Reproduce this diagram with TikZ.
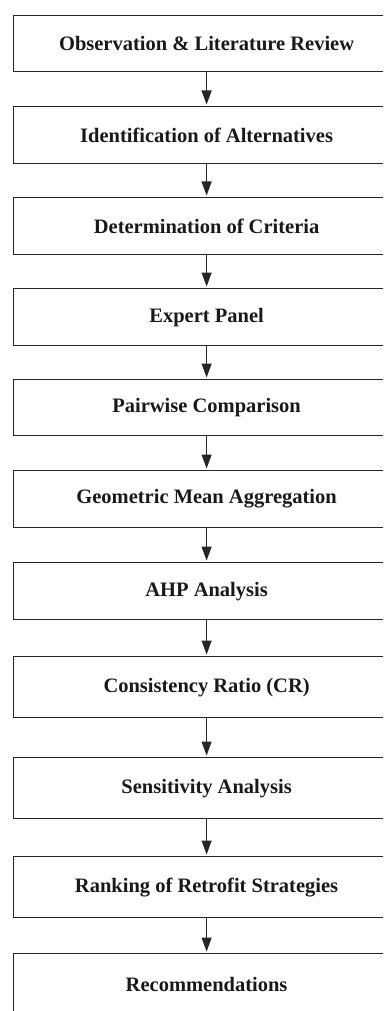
\documentclass[tikz,border=0pt]{standalone}
\usepackage{fontspec}
\setmainfont{Liberation Serif}
\usetikzlibrary{arrows.meta}
\tikzset{
  stepbox/.style={draw=black!85, line width=1.2pt, fill=white, anchor=north west,
    minimum width=386pt, inner sep=0pt, align=center,
    font=\fontsize{20.5}{24}\selectfont\bfseries, text=black!90},
  arr/.style={draw=black!85, line width=1.1pt, shorten >=1.5pt,
    -{Triangle[width=10pt,length=14pt]}}
}
\begin{document}
\begin{tikzpicture}[x=1pt,y=-1pt]
\useasboundingbox (0,0) rectangle (383,1011);
\clip (0,0) rectangle (383,1011);
\fill[white] (0,0) rectangle (383,1011);
\node[stepbox, minimum height=56pt] (b1) at (13,15) {Observation \& Literature Review};
\node[stepbox, minimum height=57pt] (b2) at (13,106) {Identification of Alternatives};
\node[stepbox, minimum height=57pt] (b3) at (13,197) {Determination of Criteria};
\node[stepbox, minimum height=57pt] (b4) at (13,288) {Expert Panel};
\node[stepbox, minimum height=56pt] (b5) at (13,379) {Pairwise Comparison};
\node[stepbox, minimum height=57pt] (b6) at (13,470) {Geometric Mean Aggregation};
\node[stepbox, minimum height=57pt] (b7) at (13,562) {AHP Analysis};
\node[stepbox, minimum height=61pt] (b8) at (13,656) {Consistency Ratio (CR)};
\node[stepbox, minimum height=61pt] (b9) at (13,757) {Sensitivity Analysis};
\node[stepbox, minimum height=61pt] (b10) at (13,856) {Ranking of Retrofit Strategies};
\node[stepbox, minimum height=62pt] (b11) at (13,953) {Recommendations};
\foreach \a/\b in {b1/b2,b2/b3,b3/b4,b4/b5,b5/b6,b6/b7,b7/b8,b8/b9,b9/b10,b10/b11}
  \draw[arr] (\a.south) -- (\b.north);
\end{tikzpicture}
\end{document}
